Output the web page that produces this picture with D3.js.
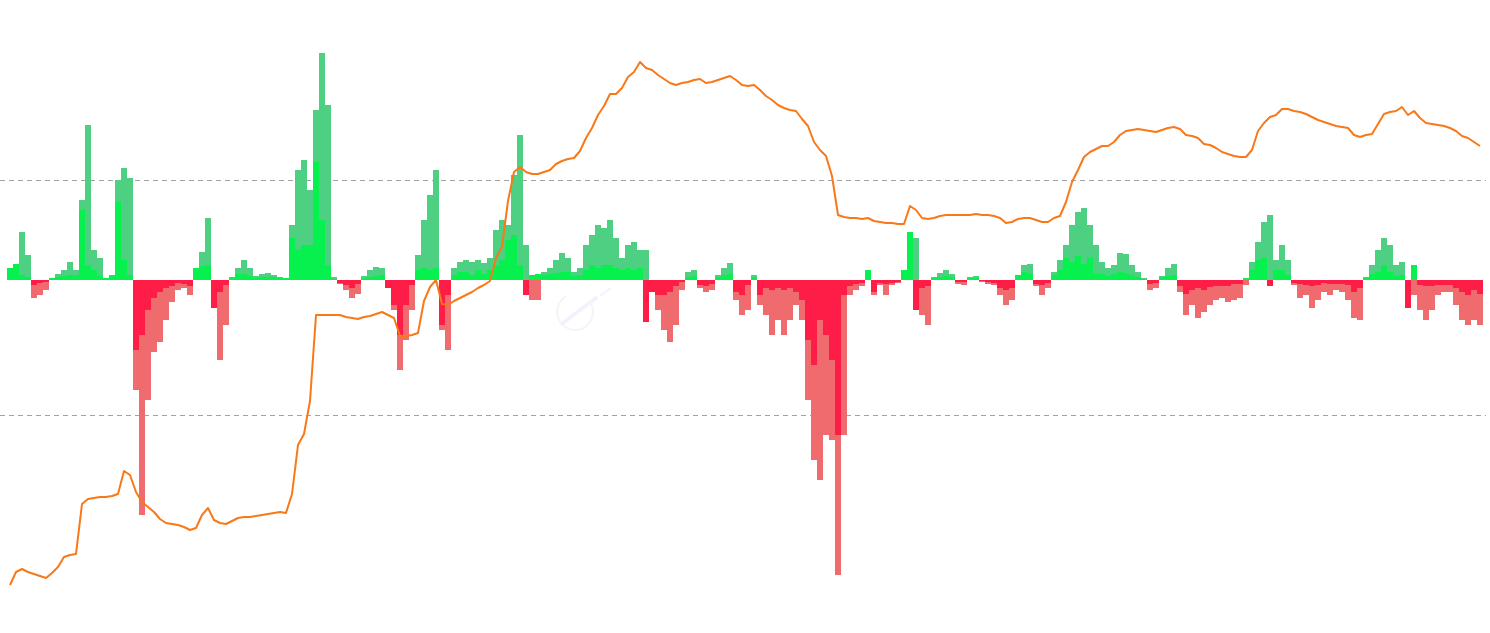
<!DOCTYPE html>
<html>
<head>
<meta charset="utf-8">
<script src="https://cdn.jsdelivr.net/npm/d3@7"></script>
<style>
  html, body { margin: 0; padding: 0; background: #ffffff; }
  svg { display: block; font-family: "Noto Sans", sans-serif; }
</style>
</head>
<body>
<svg id="chart" width="1490" height="633"></svg>
<script>
// ---- Data ----
// Indicator A (lighter bars, drawn behind)
const seriesA = [
  // part 1
  .12,.16,.48,.25,-.18,-.15,-.10,.02,.06,.10,.18,.10,.80,1.55,.30,.22,.02,.05,1.00,1.12,1.02,-1.10,-2.35,-1.20,-.72,-.62,-.40,-.22,-.10,-.08,-.15,.12,.28,.62,-.25,-.80,-.45,.03,.12,.20,.12,
  // part 2
  .04,.06,.07,.05,.03,.02,.55,1.10,1.20,.90,1.70,2.27,1.75,.03,-.04,-.10,-.18,-.14,.04,.10,.13,.12,-.08,-.30,-.90,-.60,-.30,.25,.60,.85,1.10,-.50,-.70,.12,.18,.20,.18,.20,.17,.22,
  // part 3
  .50,.60,.55,1.05,1.45,.35,-.20,-.20,.08,.12,.20,.27,.22,.08,.12,.35,.45,.55,.52,.60,.42,.22,.35,.38,.30,.30,-.10,-.30,-.50,-.62,-.45,-.10,.08,.10,-.08,-.12,-.10,.05,.12,.17,-.20,
  // part 4
  -.35,-.30,.05,-.25,-.35,-.55,-.40,-.55,-.40,-.25,-.40,-1.20,-1.80,-2.00,-1.55,-1.60,-2.95,-1.55,-.15,-.10,-.06,.10,-.15,-.05,-.15,-.05,-.03,.10,.45,.42,-.35,-.45,.03,.07,.10,.06,-.04,-.05,.03,.04,-.02,
  // part 5
  -.04,-.05,-.15,-.25,-.20,.05,.15,.16,-.06,-.15,-.08,.08,.20,.35,.55,.68,.72,.55,.35,.18,.12,.15,.27,.26,.15,.08,.02,-.10,-.08,.04,.12,.16,-.12,-.35,-.25,-.38,-.32,-.25,-.20,-.18,-.22,
  // part 6
  -.20,-.18,-.05,.18,.38,.58,.65,.20,.35,.20,-.05,-.18,-.15,-.28,-.20,-.12,-.15,-.10,-.12,-.20,-.38,-.40,.03,.15,.30,.42,.35,.15,.18,-.15,-.15,-.30,-.40,-.30,-.15,-.12,-.12,-.25,-.40,-.45,-.40,-.45
];
// Indicator B (brighter bars, drawn in front)
const seriesB = [
  .12,.16,.05,.03,-.05,-.03,-.02,.02,.03,.04,.05,.05,.70,.15,.10,.04,.02,.04,.78,.20,.05,-.70,-.55,-.30,-.18,-.12,-.08,-.06,-.03,-.04,-.06,.12,.14,.15,-.28,-.12,-.05,.02,.06,.06,.04,
  .02,.03,.03,.03,.02,.02,.42,.30,.35,.35,1.18,.60,.15,.01,-.03,-.05,-.08,-.04,.02,.03,.04,.05,-.08,-.25,-.55,-.25,-.05,.10,.12,.10,.12,-.45,-.15,.05,.08,.08,.05,.10,.06,.10,
  .15,.20,.40,.45,.15,-.15,.05,.06,.05,.06,.07,.08,.08,.04,.05,.10,.15,.12,.15,.15,.12,.10,.12,.10,.12,-.42,-.12,-.15,-.15,-.12,-.06,-.02,.03,.04,-.05,-.06,-.04,.03,.05,.06,-.12,
  -.15,-.05,.03,-.15,-.08,-.10,-.08,-.10,-.08,-.12,-.20,-.60,-.85,-.40,-.55,-.80,-1.55,-.15,-.06,-.04,-.03,.10,-.12,-.03,-.04,-.03,-.02,.10,.48,-.30,-.08,-.06,.02,.03,.04,.03,-.02,-.02,.02,.02,-.01,
  -.02,-.03,-.08,-.10,-.08,.05,.08,.06,-.04,-.05,-.03,.05,.10,.22,.18,.24,.16,.22,.06,.06,.04,.06,.08,.07,.05,.03,.01,-.04,-.03,.03,.04,.05,-.06,-.14,-.10,-.08,-.10,-.07,-.06,-.06,-.06,
  -.04,-.04,.02,.10,.20,.22,-.06,.10,.10,.05,-.03,-.04,-.05,-.06,-.05,-.03,-.04,-.04,-.04,-.05,-.12,-.08,.02,.06,.08,.15,.08,.04,.05,-.28,.15,-.05,-.06,-.06,-.05,-.05,-.05,-.08,-.12,-.15,-.10,-.14
];
// Price line
const priceLine = [
  6.0,8.6,9.2,8.6,8.2,7.8,7.4,8.4,9.6,11.6,12.0,12.2,22.2,23.2,23.4,23.6,23.6,23.8,24.2,28.8,28.0,24.6,22.6,21.6,20.6,19.2,18.4,18.2,18.0,17.6,17.0,17.4,20.0,21.4,19.0,18.4,18.2,18.8,19.4,19.6,19.6,
  19.8,20.0,20.2,20.4,20.6,20.4,24.2,34.0,36.2,42.8,60.0,60.0,60.0,60.0,60.0,59.6,59.4,59.2,59.6,59.8,60.2,60.6,60.0,59.4,55.8,55.8,56.0,56.4,62.8,65.6,67.0,62.2,62.0,62.8,63.4,64.0,64.6,65.4,66.0,66.8,
  71.4,73.6,82.8,88.6,89.6,88.6,88.2,88.2,88.6,89.0,90.2,90.8,91.2,91.4,92.8,95.4,97.4,100.0,101.8,104.2,104.2,105.4,107.6,108.6,110.6,109.4,109.0,108.0,107.2,106.4,106.0,106.4,106.6,107.0,107.2,106.4,106.6,107.0,107.4,107.8,107.0,
  106.0,105.8,106.0,105.0,103.8,103.0,102.0,101.4,101.0,100.8,99.2,97.8,94.6,93.0,91.8,87.8,80.0,79.6,79.4,79.4,79.2,79.4,78.8,78.6,78.4,78.4,78.2,78.2,81.8,81.0,79.4,79.2,79.4,79.8,80.0,80.0,80.0,80.0,80.0,80.2,80.0,
  80.0,79.8,79.4,78.4,78.6,79.2,79.4,79.4,79.0,78.6,78.6,79.4,79.8,82.6,86.6,89.0,91.6,92.6,93.2,93.8,93.8,94.6,96.0,96.8,97.0,97.2,97.0,96.8,96.6,97.0,97.4,97.6,97.2,96.0,95.8,95.4,94.2,94.0,93.4,92.6,92.2,
  91.8,91.6,91.6,93.0,96.8,98.4,99.6,100.0,101.2,101.2,100.8,100.6,100.2,99.6,99.0,98.6,98.2,97.8,97.6,97.4,96.0,95.6,96.0,96.2,98.2,100.2,100.6,100.8,101.6,100.0,100.8,99.4,98.4,98.2,98.0,97.8,97.4,96.8,95.8,95.4,94.6,93.8
];
// Reference grid values on the price axis (no labels shown)
const gridTicks = [40, 87];

// ---- Chart ----
const W = 1490, H = 633;
const N = seriesA.length;
const svg = d3.select("#chart");

const x = d3.scaleLinear().domain([0, N - 1]).range([10, 1480]);
const step = x(1) - x(0);
const yBar = d3.scaleLinear().domain([0, 1]).range([280, 180]);
const yLine = d3.scaleLinear().domain([40, 87]).range([415, 180]);

const C = {
  lightGreen: "#4dd082",
  brightGreen: "#06f04e",
  lightRed: "#f06b6e",
  brightRed: "#fd1d47",
  line: "#f97818",
  grid: "#a3a3a3"
};

// grid lines
svg.append("g").selectAll("line").data(gridTicks).join("line")
  .attr("x1", 0).attr("x2", 1486)
  .attr("y1", d => Math.round(yLine(d)) + 0.5)
  .attr("y2", d => Math.round(yLine(d)) + 0.5)
  .attr("stroke", C.grid).attr("stroke-width", 1)
  .attr("stroke-dasharray", "5,4");

function drawBars(values, posColor, negColor) {
  svg.append("g").selectAll("rect").data(values).join("rect")
    .attr("x", (d, i) => x(i) - step / 2)
    .attr("width", step + 0.4)
    .attr("y", d => Math.min(yBar(d), yBar(0)))
    .attr("height", d => Math.abs(yBar(d) - yBar(0)))
    .attr("fill", d => d >= 0 ? posColor : negColor)
    .attr("shape-rendering", "crispEdges");
}
drawBars(seriesA, C.lightGreen, C.lightRed);
drawBars(seriesB, C.brightGreen, C.brightRed);

// faint watermark logo
const wm = svg.append("g").attr("opacity", 0.18);
wm.append("path")
  .attr("d", d3.arc()({innerRadius: 17, outerRadius: 19, startAngle: 0.9, endAngle: 2 * Math.PI - 0.5}))
  .attr("transform", "translate(575,312)")
  .attr("fill", "#c8c8d8");
wm.append("line").attr("x1", 563).attr("y1", 323).attr("x2", 596).attr("y2", 298)
  .attr("stroke", "#c9b8f0").attr("stroke-width", 4).attr("stroke-linecap", "round");
wm.append("line").attr("x1", 601).attr("y1", 295).attr("x2", 610).attr("y2", 289)
  .attr("stroke", "#c9b8f0").attr("stroke-width", 2).attr("stroke-linecap", "round");

// price line
const line = d3.line()
  .x((d, i) => x(i))
  .y(d => yLine(d));
svg.append("path")
  .datum(priceLine)
  .attr("d", line)
  .attr("fill", "none")
  .attr("stroke", C.line)
  .attr("stroke-width", 2)
  .attr("stroke-linejoin", "round");
</script>
</body>
</html>
